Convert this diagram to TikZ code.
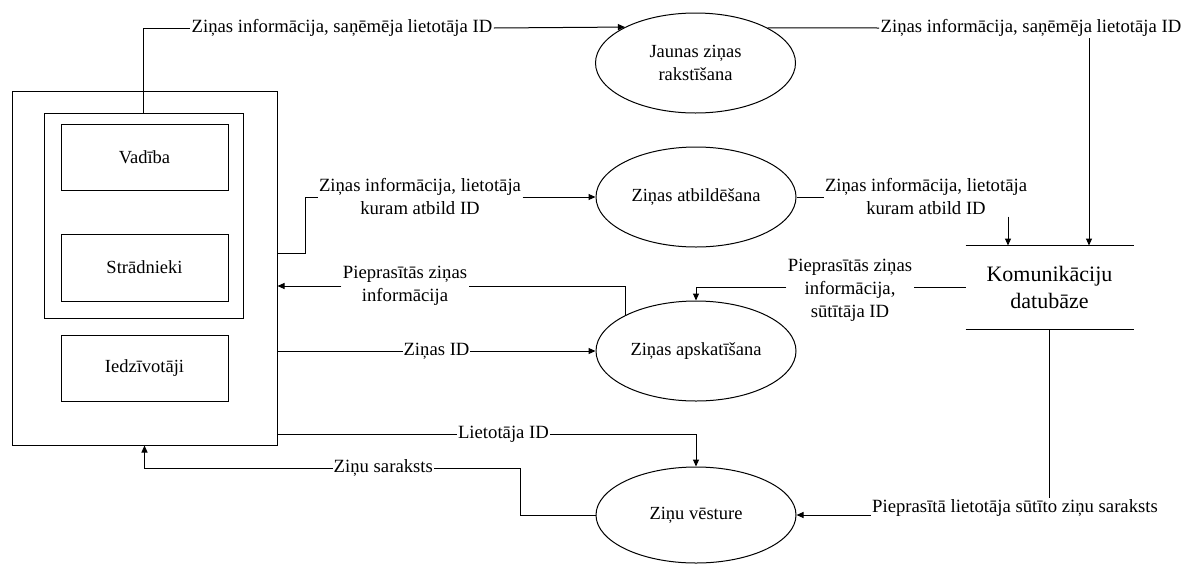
\documentclass[tikz,border=0pt]{standalone}
\usepackage{fontspec}
\setmainfont{Liberation Serif}
\usetikzlibrary{arrows.meta,shapes.geometric}
\begin{document}
\begin{tikzpicture}[x=1pt,y=-1pt,
  line width=1pt,
  arr/.style={-{Triangle[length=7pt,width=6pt]}},
  box/.style={draw,rectangle,inner sep=0pt,font=\fontsize{18.5}{23}\selectfont},
  proc/.style={draw,ellipse,minimum width=200pt,minimum height=100pt,inner sep=0pt,align=center,font=\fontsize{18.5}{23}\selectfont},
  lbl/.style={inner sep=1pt,align=center,font=\fontsize{18.7}{23}\selectfont,fill=white}]
\useasboundingbox (0,0) rectangle (1190,563);
% entity boxes
\node[box,minimum width=265pt,minimum height=354pt] (outer) at (144.5,268) {};
\node[box,minimum width=199pt,minimum height=205pt] (inner) at (143.5,215.5) {};
\node[box,minimum width=167pt,minimum height=66pt] (vad) at (144.5,157) {Vadība};
\node[box,minimum width=167pt,minimum height=67pt] (str) at (144.5,267.5) {Strādnieki};
\node[box,minimum width=167pt,minimum height=66pt] (iedz) at (144.5,368) {Iedzīvotāji};
% processes
\node[proc] (e1) at (695.5,63) {Jaunas ziņas\\rakstīšana};
\node[proc] (e2) at (696,197) {Ziņas atbildēšana};
\node[proc] (e3) at (696,351) {Ziņas apskatīšana};
\node[proc,minimum height=96pt] (e4) at (696,515) {Ziņu vēsture};
% data store
\node[inner sep=0pt,minimum width=167pt,minimum height=83pt,align=center,font=\fontsize{22}{27}\selectfont] (store) at (1049.5,287.5) {Komunikāciju\\datubāze};
\draw (store.north west) -- (store.north east);
\draw (store.south west) -- (store.south east);
% labels
\node[lbl] (t1) at (342,28) {Ziņas informācija, saņēmēja lietotāja ID};
\node[lbl] (t2) at (1031,28) {Ziņas informācija, saņēmēja lietotāja ID};
\node[lbl] (t3) at (420,197) {Ziņas informācija, lietotāja\\kuram atbild ID};
\node[lbl] (t4) at (926,197) {Ziņas informācija, lietotāja\\kuram atbild ID};
\node[lbl] (t5) at (850,290) {Pieprasītās ziņas\\informācija,\\sūtītāja ID};
\node[lbl] (t6) at (405,286) {Pieprasītās ziņas\\informācija};
\node[lbl] (t7) at (1015,508) {Pieprasītā lietotāja sūtīto ziņu saraksts};
% connectors
\draw (inner.north) |- (t1.west);
\draw[arr] (t1.east) -- (e1.153.9);
\draw (e1.26.1) -- (t2.west);
\draw[arr] ([xshift=58pt]t2.south) -- ([xshift=58pt]t2.south |- store.north);
\draw ([yshift=15pt]outer.east) -- ++(28,0) |- (t3.west);
\draw[arr] (t3.east) -- (e2.west);
\draw (e2.east) -- (t4.west);
\draw[arr] ([xshift=82pt]t4.south) -- ([xshift=82pt]t4.south |- store.north);
\draw (store.west) -- (store.west -| t5.east);
\draw[arr] (store.west -| t5.west) -| (e3.north);
\draw (e3.153) |- (t6.east);
\draw[arr] (t6.west) -- (t6.west -| outer.east);
\draw[arr] (outer.east |- e3.west) -- node[lbl]{Ziņas ID} (e3.west);
\draw[arr] ([yshift=-166pt]outer.east) -| node[lbl,pos=0.27]{Lietotāja ID} (e4.north);
\coordinate (z1) at (520,468);
\draw[arr] (e4.west) -| (z1) -- node[lbl,pos=0.364]{Ziņu saraksts} (z1 -| outer.south) -- (outer.south);
\draw (store.south) -- (store.south |- t7.north);
\draw[arr] (t7.west |- e4.east) -- (e4.east);
\end{tikzpicture}
\end{document}
